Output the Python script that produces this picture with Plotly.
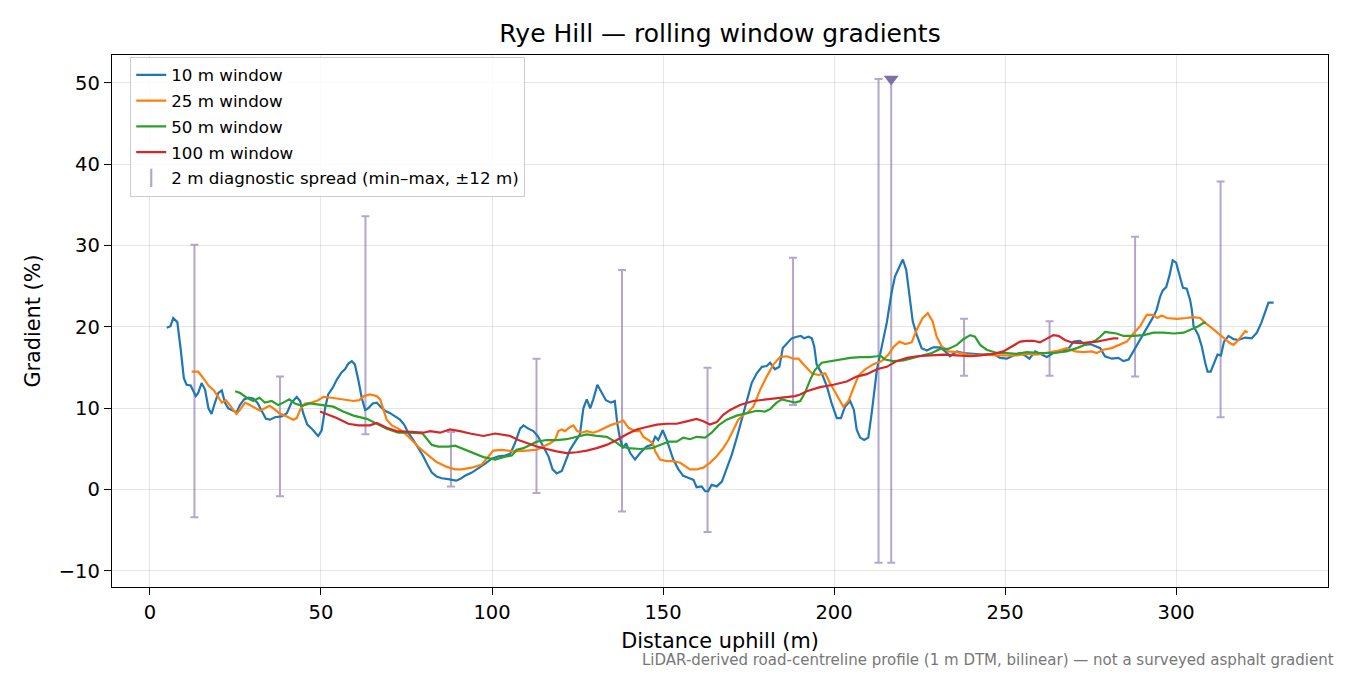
import plotly.graph_objects as go

# 10 m window (blue)
w10_x = [4.9, 6.0, 6.8, 8.0, 9.0, 9.9, 10.7, 11.9, 13.4, 14.1, 15.1, 16.1, 17.1, 18.0, 19.0, 20.0, 21.0, 21.9,
         22.9, 24.4, 25.3, 26.3, 27.5, 28.8, 30.2, 31.4, 32.7, 33.9, 35.1, 36.5, 38.5, 40.0, 41.4, 42.9, 43.9,
         44.8, 46.0, 47.3, 48.5, 49.2, 50.2, 51.2, 52.1, 53.4, 54.6, 56.0, 57.0, 58.0, 59.0, 59.9, 60.9, 61.9,
         62.9, 63.8, 65.1, 66.3, 67.4, 68.7, 70.2, 71.6, 73.1, 74.3, 75.5, 77.0, 78.5, 79.9, 81.1, 82.4, 83.8,
         85.3, 87.2, 89.5, 90.6, 92.1, 94.1, 96.0, 98.0, 99.9, 101.9, 103.8, 105.3, 106.7, 108.2, 109.2, 110.6,
         112.1, 113.5, 115.0, 116.5, 117.7, 118.9, 120.4, 121.3, 122.8, 124.3, 125.7, 126.7, 127.7, 128.7,
         129.6, 130.8, 132.1, 133.3, 134.8, 135.9, 136.6, 137.4, 138.2, 139.2, 140.4, 141.8, 143.3, 145.2,
         146.7, 147.7, 148.6, 149.9, 151.1, 152.0, 153.0, 154.5, 155.9, 157.7, 158.9, 159.8, 161.3, 162.3,
         163.2, 164.2, 165.7, 167.2, 168.6, 170.1, 171.5, 173.0, 174.5, 175.9, 177.4, 178.9, 180.3, 181.3,
         182.7, 184.0, 185.0, 186.2, 187.6, 189.1, 190.3, 191.2, 192.5, 193.5, 194.2, 194.9, 196.4, 197.9,
         199.3, 200.8, 202.0, 203.2, 204.7, 205.8, 206.6, 207.6, 208.8, 210.0, 211.0, 212.5, 213.9, 215.4,
         216.8, 217.8, 219.1, 220.1, 221.1, 222.0, 223.0, 224.2, 225.6, 227.1, 229.0, 231.0, 232.5, 233.9,
         235.9, 237.8, 240.7, 243.7, 246.6, 248.5, 250.5, 252.4, 254.4, 255.8, 257.1, 258.8, 260.2, 262.2,
         264.1, 266.6, 268.5, 270.0, 271.9, 273.4, 274.9, 276.3, 277.8, 279.2, 281.2, 283.1, 284.6, 286.1,
         287.5, 289.0, 290.5, 291.9, 293.4, 294.3, 295.3, 296.1, 297.1, 298.1, 299.0, 300.0, 301.0, 302.0,
         303.1, 304.1, 304.6, 305.1, 306.5, 307.5, 308.5, 309.2, 310.1, 311.1, 312.1, 313.1, 314.0, 315.3,
         316.8, 318.2, 320.2, 322.1, 323.6, 324.9, 326.1, 327.0, 328.5]
w10_y = [19.9, 20.1, 21.1, 20.6, 17.2, 13.7, 12.9, 12.8, 11.5, 11.9, 13.1, 12.3, 10.0, 9.3, 10.7, 11.9, 12.2, 10.7,
         10.0, 9.7, 9.5, 10.4, 11.1, 11.3, 11.2, 10.7, 9.6, 8.7, 8.6, 8.9, 9.0, 9.4, 10.7, 11.4, 10.9,
         9.4, 8.0, 7.5, 6.9, 6.6, 7.3, 10.0, 11.7, 12.5, 13.5, 14.4, 14.8, 15.5, 15.8, 15.4, 13.5, 11.3,
         9.8, 10.0, 10.6, 10.7, 10.2, 9.7, 9.4, 9.0, 8.6, 8.0, 7.0, 6.1, 5.1, 4.1, 3.1, 2.1, 1.6,
         1.4, 1.3, 1.1, 1.3, 1.7, 2.1, 2.6, 3.2, 3.8, 4.1, 4.2, 4.4, 5.7, 7.5, 7.9, 7.5,
         7.2, 6.5, 5.3, 4.1, 2.5, 2.0, 2.3, 3.3, 4.9, 5.9, 6.8, 10.0, 11.1, 10.0,
         11.1, 12.9, 11.9, 11.0, 10.7, 10.9, 8.2, 6.3, 5.1, 5.7, 4.5, 3.7, 4.5, 5.3,
         5.5, 6.5, 6.1, 7.3, 6.1, 4.9, 3.7, 2.5, 1.7, 1.4, 1.2, 0.3, 0.4, -0.2,
         -0.2, 0.6, 0.4, 1.0, 2.5, 4.3, 6.3, 8.6, 11.1, 13.1, 14.3, 15.1, 15.2, 15.6,
         14.8, 15.1, 17.4, 18.0, 18.6, 18.8, 18.9, 18.6, 18.8, 18.6, 17.6, 15.4, 14.3, 12.7,
         10.6, 8.8, 8.8, 10.2, 10.9, 9.8, 7.4, 6.4, 6.1, 6.4, 9.4, 14.7, 17.6, 20.5,
         24.2, 26.2, 27.4, 28.3, 27.0, 23.7, 20.7, 19.0, 17.4, 17.1, 17.5, 17.5, 17.0, 16.4,
         17.0, 16.8, 16.7, 16.6, 16.7, 16.2, 16.1, 16.5, 16.8, 16.5, 16.1, 17.0, 16.7, 16.3,
         16.8, 17.0, 17.3, 18.2, 18.3, 17.8, 17.9, 17.7, 17.4, 16.4, 16.1, 16.2, 15.8, 16.0,
         17.0, 18.2, 19.2, 20.3, 21.3, 22.1, 23.7, 24.5, 24.9, 26.4, 28.2, 27.9, 26.4, 24.8,
         24.7, 23.3, 22.1, 20.1, 19.0, 17.6, 15.6, 14.5, 14.5, 15.6, 16.6, 16.5, 18.2, 18.9,
         18.5, 18.4, 18.7, 18.6, 19.3, 20.5, 22.1, 23.0, 23.0]

# 25 m window (orange)
w25_x = [12.2, 14.1, 15.6, 17.1, 18.7, 20.0, 21.0, 22.2, 23.4, 24.4, 25.3, 26.3, 27.8, 29.2, 30.7, 32.2, 33.6,
         34.9, 36.1, 37.8, 40.0, 41.9, 42.9, 44.1, 45.3, 47.3, 49.2, 50.7, 53.1, 56.5, 59.5, 61.2, 62.6,
         64.3, 66.3, 67.3, 68.2, 69.2, 70.7, 72.6, 74.6, 76.5, 78.9, 81.4, 83.8, 86.8, 89.2, 91.1, 94.1,
         97.0, 98.9, 100.4, 102.8, 106.2, 110.1, 113.1, 115.0, 117.0, 118.4, 119.4, 120.4, 121.3, 122.8,
         123.8, 124.9, 126.2, 127.7, 129.6, 131.1, 132.5, 134.5, 136.5, 138.4, 139.9, 141.8, 143.3, 144.2,
         145.7, 147.0, 147.7, 149.1, 151.1, 153.0, 155.0, 156.4, 157.9, 159.8, 161.8, 163.7, 165.7, 167.6,
         169.1, 170.6, 172.0, 173.5, 174.5, 176.4, 178.4, 180.3, 182.3, 184.2, 186.2, 188.1, 189.6, 191.5,
         193.5, 195.4, 197.4, 198.8, 200.8, 202.7, 204.2, 205.7, 207.1, 209.1, 211.4, 213.9, 215.9, 217.3,
         219.1, 220.8, 222.7, 224.2, 225.9, 227.4, 228.8, 230.0, 231.5, 233.4, 235.9, 238.8, 241.7, 244.6,
         247.6, 250.5, 253.4, 256.3, 259.3, 263.2, 265.6, 268.0, 270.5, 272.9, 275.3, 276.8, 278.7, 281.2,
         283.6, 285.6, 287.5, 289.5, 291.4, 293.2, 294.5, 295.8, 297.3, 300.2, 303.1, 305.1, 307.0, 308.5,
         310.4, 312.4, 314.3, 315.8, 316.8, 318.0, 319.3, 320.2, 320.9]
w25_y = [14.5, 14.5, 13.7, 12.8, 12.2, 11.4, 10.7, 11.0, 10.3, 9.8, 9.3, 9.8, 10.7, 10.4, 10.0, 9.7, 10.0,
         10.3, 10.0, 9.4, 9.0, 8.6, 8.8, 10.0, 10.6, 10.7, 11.0, 11.4, 11.3, 11.1, 10.9, 11.0, 11.5,
         11.7, 11.5, 11.1, 9.8, 8.6, 7.9, 7.5, 6.9, 6.1, 5.1, 4.2, 3.4, 2.8, 2.5, 2.5, 2.7,
         3.1, 4.1, 4.8, 4.9, 4.7, 4.8, 4.9, 5.3, 5.7, 6.1, 7.2, 7.4, 7.2, 7.7,
         7.9, 7.2, 7.0, 7.2, 7.0, 7.2, 7.5, 7.9, 8.2, 8.5, 7.6, 7.2, 7.2, 6.5,
         6.1, 5.7, 4.7, 3.7, 3.5, 3.5, 3.3, 2.9, 2.5, 2.5, 2.7, 3.3, 4.1, 5.1,
         6.1, 7.4, 8.6, 9.2, 9.4, 10.2, 12.3, 13.9, 15.4, 16.3, 16.4, 16.1, 16.1, 15.2,
         14.3, 14.1, 14.3, 13.1, 11.7, 10.2, 10.9, 12.5, 14.0, 14.8, 15.4, 15.8, 16.6, 17.5,
         18.2, 17.9, 18.1, 19.7, 21.1, 21.7, 20.7, 18.8, 17.6, 17.0, 16.9, 16.6, 16.5, 16.6,
         16.5, 16.5, 16.5, 16.7, 16.6, 16.9, 17.1, 17.4, 17.0, 16.9, 17.0, 16.8, 17.2, 17.4,
         17.8, 18.2, 19.2, 20.1, 21.5, 21.5, 21.1, 21.4, 21.1, 21.0, 21.1, 21.2, 21.1, 20.5,
         19.9, 19.2, 18.5, 18.0, 17.8, 18.3, 19.0, 19.5, 19.3]

# 50 m window (green)
w50_x = [24.9, 26.3, 28.3, 30.2, 32.0, 33.6, 35.6, 37.5, 39.0, 40.7, 42.4, 44.4, 46.8, 50.7, 53.6, 56.5, 59.5,
         63.4, 66.3, 69.2, 72.6, 76.0, 79.7, 80.9, 82.4, 84.3, 87.2, 89.2, 91.6, 94.5, 97.5, 100.9, 102.3,
         104.3, 105.8, 107.2, 109.2, 111.1, 113.1, 116.0, 118.9, 121.8, 124.8, 127.7, 130.6, 133.5, 136.0,
         137.9, 139.9, 143.3, 146.7, 149.1, 151.6, 154.0, 155.9, 157.9, 159.8, 162.3, 164.2, 166.2, 168.6,
         171.5, 174.9, 177.4, 179.8, 181.3, 183.2, 184.7, 186.6, 188.6, 190.1, 191.5, 193.0, 194.4, 196.4,
         198.8, 201.8, 204.7, 207.6, 210.5, 212.5, 213.5, 214.9, 217.3, 220.3, 223.2, 226.1, 228.6, 231.0,
         233.4, 235.9, 237.8, 239.8, 241.2, 242.7, 244.6, 247.6, 250.5, 253.4, 256.3, 260.2, 264.1, 268.0,
         271.0, 273.9, 276.3, 277.8, 279.2, 280.7, 282.6, 284.6, 287.5, 290.5, 293.4, 296.3, 299.3, 302.2,
         304.6, 306.5, 308.0, 308.7]
w50_y = [12.1, 11.9, 11.3, 10.9, 11.3, 10.7, 10.9, 10.4, 10.7, 11.1, 10.6, 10.3, 10.6, 10.4, 10.2, 9.6, 9.1,
         8.7, 8.1, 7.5, 7.0, 7.0, 6.9, 6.3, 5.5, 5.3, 5.3, 5.4, 5.0, 4.5, 4.0, 3.7, 3.9,
         4.1, 4.2, 4.9, 5.1, 5.5, 5.9, 6.1, 6.1, 6.2, 6.5, 6.8, 6.6, 6.5, 5.9,
         5.3, 5.1, 5.0, 5.1, 5.5, 5.9, 5.9, 6.4, 6.2, 6.5, 6.4, 7.0, 7.9, 8.6,
         9.1, 9.5, 9.7, 9.6, 9.9, 10.7, 11.1, 10.9, 10.7, 10.9, 11.9, 13.5, 14.7, 15.6,
         15.8, 16.0, 16.2, 16.3, 16.3, 16.4, 16.5, 16.0, 15.8, 15.9, 16.2, 16.5, 16.8, 17.3,
         17.3, 17.8, 18.5, 19.0, 18.8, 17.8, 17.2, 16.8, 16.8, 16.7, 16.9, 16.8, 16.8, 17.0,
         17.4, 17.9, 18.3, 18.8, 19.4, 19.3, 19.2, 18.9, 18.9, 19.0, 19.3, 19.3, 19.2, 19.3,
         19.7, 20.1, 20.5, 20.5]

# 100 m window (red)
w100_x = [49.7, 51.7, 54.6, 58.0, 60.9, 64.3, 66.3, 69.2, 72.1, 76.0, 79.9, 81.9, 84.8, 87.7, 90.6, 93.6, 97.5,
          100.9, 102.3, 105.3, 107.7, 110.1, 113.1, 116.0, 118.9, 121.8, 124.8, 127.7, 130.6, 133.5, 136.5,
          139.4, 142.3, 145.2, 148.2, 151.1, 154.0, 156.9, 159.8, 161.8, 163.7, 165.7, 167.6, 169.6, 172.5,
          176.4, 180.3, 183.2, 186.2, 188.6, 190.1, 192.0, 195.9, 199.8, 203.7, 206.6, 209.6, 212.5, 215.4,
          218.3, 221.3, 224.2, 228.1, 232.0, 235.9, 239.8, 242.7, 246.6, 249.5, 252.4, 254.4, 256.3, 258.3,
          260.2, 262.2, 264.1, 265.6, 267.5, 269.5, 271.9, 274.4, 276.8, 279.2, 281.7, 283.1]
w100_y = [9.6, 9.3, 8.8, 8.1, 7.9, 7.9, 8.2, 7.6, 7.2, 7.1, 7.0, 7.2, 7.0, 7.4, 7.2, 6.9, 6.6,
          6.9, 6.8, 6.6, 6.1, 5.7, 5.3, 5.0, 4.7, 4.5, 4.6, 4.8, 5.1, 5.5, 6.1,
          6.8, 7.4, 7.7, 8.0, 8.1, 8.1, 8.4, 8.7, 8.4, 8.0, 8.3, 9.2, 9.8, 10.4,
          10.9, 11.1, 11.2, 11.4, 11.5, 11.7, 12.1, 12.6, 12.9, 13.3, 13.9, 14.2, 14.8, 15.1,
          15.8, 16.2, 16.4, 16.5, 16.6, 16.5, 16.4, 16.5, 16.7, 17.0, 17.7, 18.2, 18.3, 18.3,
          18.1, 18.6, 19.0, 18.9, 18.4, 18.1, 18.0, 18.1, 18.2, 18.4, 18.6, 18.6]

# 2 m diagnostic spread, min/max within +-12 m
spread_x = [13, 38, 63, 88, 113, 138, 163, 188, 213, 216.7, 238, 263, 288, 313]
spread_lo = [-3.4, -0.8, 6.8, 0.4, -0.4, -2.7, -5.2, 10.4, -9.0, -9.0, 14.0, 14.0, 13.9, 8.9]
spread_hi = [30.1, 13.9, 33.6, 7.1, 16.1, 27.0, 15.0, 28.5, 50.5, 50.5, 21.0, 20.7, 31.1, 37.9]

# spread clipped at the top of the chart
clip_x = [216.7]
clip_y = [50.5]

FONT = "DejaVu Sans"
SPREAD_COL = "rgba(128,108,170,0.6)"

# page body adds an 8 px margin, so the figure is drawn 8 px smaller
W, H = 1342, 667

fig = go.Figure()

fig.add_trace(go.Scatter(
    x=spread_x, y=spread_lo, mode="markers", marker=dict(size=1, opacity=0),
    error_y=dict(type="data", symmetric=False,
                 array=[h - l for h, l in zip(spread_hi, spread_lo)],
                 arrayminus=[0] * len(spread_x),
                 color=SPREAD_COL, thickness=2, width=4),
    showlegend=False, hoverinfo="skip"))

lines = [("10 m window", w10_x, w10_y, "#1f77b4"),
         ("25 m window", w25_x, w25_y, "#ff7f0e"),
         ("50 m window", w50_x, w50_y, "#2ca02c"),
         ("100 m window", w100_x, w100_y, "#d62728")]
for name, xs, ys, col in lines:
    fig.add_trace(go.Scatter(x=xs, y=ys, mode="lines", name=name, legendgroup=name,
                             line=dict(color=col, width=2.2)))

# legend entry for the spread bars
fig.add_trace(go.Scatter(
    x=[None], y=[None], mode="markers", name="2 m diagnostic spread (min–max, ±12 m)",
    legendgroup="spread",
    marker=dict(symbol="line-ns", size=13, line=dict(color=SPREAD_COL, width=2.2))))

fig.add_trace(go.Scatter(
    x=clip_x, y=clip_y, mode="markers", showlegend=False,
    marker=dict(symbol="triangle-down", size=13, color="#7d71a6")))

axis_common = dict(showline=True, linecolor="black", linewidth=1.3, mirror=True,
                   ticks="outside", ticklen=7, tickwidth=1.3, tickcolor="black",
                   showgrid=True, gridcolor="rgba(0,0,0,0.1)", gridwidth=1.1,
                   zeroline=False, tickfont=dict(family=FONT, size=19.5, color="black"))

fig.update_xaxes(range=[-11.1, 344.4], tickmode="array", tickvals=[0, 50, 100, 150, 200, 250, 300],
                 title=dict(text="Distance uphill (m)", font=dict(family=FONT, size=20.8, color="black"),
                            standoff=10),
                 **axis_common)
fig.update_yaxes(range=[-11.97, 53.44], tickmode="array", tickvals=[-10, 0, 10, 20, 30, 40, 50],
                 title=dict(text="Gradient (%)", font=dict(family=FONT, size=20.8, color="black"),
                            standoff=12),
                 **axis_common)

fig.update_layout(
    width=W, height=H,
    margin=dict(l=104, r=22, t=47, b=88),
    paper_bgcolor="white", plot_bgcolor="white",
    font=dict(family=FONT, color="black"),
    title=dict(text="Rye Hill — rolling window gradients", xref="paper", x=0.5, xanchor="center",
               y=1 - 25 / H, yanchor="middle", font=dict(family=FONT, size=25, color="black")),
    legend=dict(x=0.015, y=0.997, xanchor="left", yanchor="top",
                bgcolor="rgba(255,255,255,0.85)", bordercolor="#cccccc", borderwidth=1,
                font=dict(family=FONT, size=16.7, color="black"), itemwidth=30, tracegroupgap=1),
    showlegend=True,
)

fig.add_annotation(text="LiDAR-derived road-centreline profile (1 m DTM, bilinear) — not a surveyed asphalt gradient",
                   xref="paper", yref="paper", x=(1336 - 112) / 1216, y=-(660 - 587) / 532,
                   xanchor="right", yanchor="middle", showarrow=False,
                   font=dict(family=FONT, size=15, color="#777777"))

fig.write_html("out.html")
